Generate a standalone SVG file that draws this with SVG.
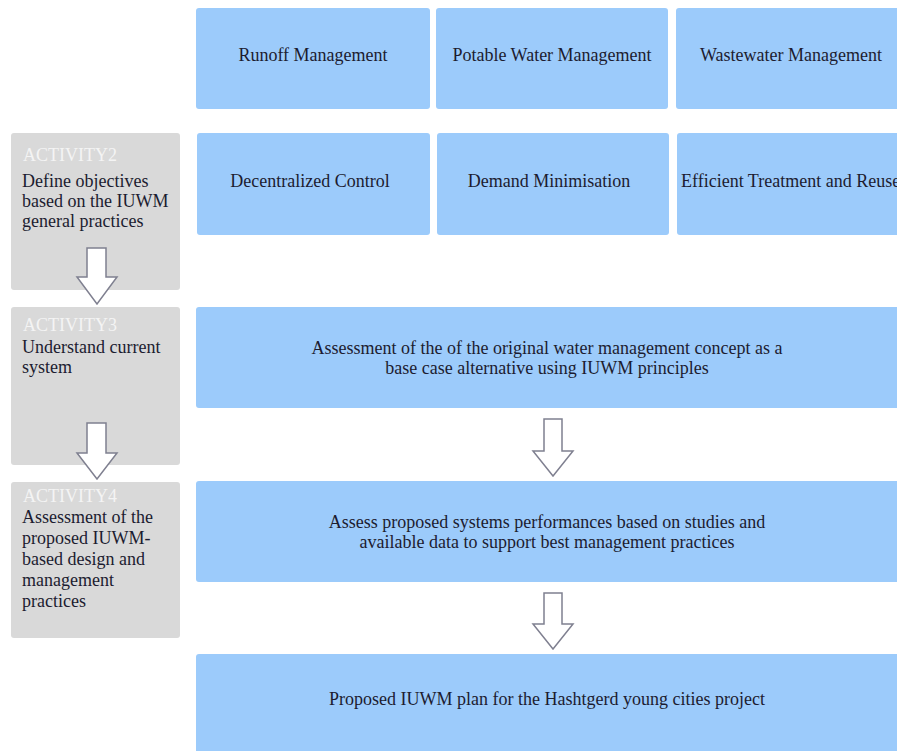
<svg xmlns="http://www.w3.org/2000/svg" width="897" height="751" viewBox="0 0 897 751">
<style>
.b{fill:#9ccbfb}
.g{fill:#d9d9d9}
text{font-family:'Liberation Serif','Tinos','DejaVu Serif',serif;font-size:18px}
.t{fill:#1c1c30}
.c{text-anchor:middle}
.w{fill:#f4f4f4}
.a{fill:#ffffff;stroke:#7f8090;stroke-width:1.5;stroke-linejoin:miter}
</style>
<rect width="897" height="751" fill="#ffffff"/>
<g id="runoff"><rect class="b" x="196" y="8" width="234" height="101" rx="3"/><text class="t c" x="313" y="61">Runoff Management</text></g>
<g id="potable"><rect class="b" x="436" y="8" width="232" height="101" rx="3"/><text class="t c" x="552" y="61">Potable Water Management</text></g>
<g id="wastewater"><rect class="b" x="676" y="8" width="230" height="101" rx="3"/><text class="t c" x="791" y="61">Wastewater Management</text></g>
<g id="decentral"><rect class="b" x="197" y="133" width="233" height="102" rx="3"/><text class="t c" x="310" y="187">Decentralized Control</text></g>
<g id="demand"><rect class="b" x="437" y="133" width="232" height="102" rx="3"/><text class="t c" x="549" y="187">Demand Minimisation</text></g>
<g id="efficient"><rect class="b" x="677" y="133" width="230" height="102" rx="3"/><text class="t" x="681" y="187">Efficient Treatment and Reuse</text></g>
<g id="activity2"><rect class="g" x="11" y="133" width="169" height="157" rx="3"/><text class="w" x="23" y="161">ACTIVITY2</text><text class="t" x="22" y="187">Define objectives</text><text class="t" x="22" y="207">based on the IUWM</text><text class="t" x="22" y="227">general practices</text></g>
<g id="activity3"><rect class="g" x="11" y="307" width="169" height="158" rx="3"/><text class="w" x="23" y="331">ACTIVITY3</text><text class="t" x="22" y="353">Understand current</text><text class="t" x="22" y="373">system</text></g>
<g id="activity4"><rect class="g" x="11" y="482" width="169" height="156" rx="3"/><text class="w" x="23" y="502">ACTIVITY4</text><text class="t" x="22" y="523">Assessment of the</text><text class="t" x="22" y="544">proposed IUWM-</text><text class="t" x="22" y="565">based design and</text><text class="t" x="22" y="586">management</text><text class="t" x="22" y="607">practices</text></g>
<g id="assess-original"><rect class="b" x="196" y="307" width="710" height="101" rx="3"/><text class="t c" x="547" y="354">Assessment of the of the original water management concept as a</text><text class="t c" x="547" y="374">base case alternative using IUWM principles</text></g>
<g id="assess-proposed"><rect class="b" x="196" y="481" width="710" height="101" rx="3"/><text class="t c" x="547" y="528">Assess proposed systems performances based on studies and</text><text class="t c" x="547" y="548">available data to support best management practices</text></g>
<g id="plan"><rect class="b" x="196" y="654" width="710" height="110" rx="3"/><text class="t c" x="547" y="705">Proposed IUWM plan for the Hashtgerd young cities project</text></g>
<g id="connectors">
<path class="a" d="M87,248 H106 V277 H117 L97,304 L77,277 H87 Z"/>
<path class="a" d="M87,423 H106 V453 H117 L97,479 L77,453 H87 Z"/>
<path class="a" d="M544,419 H562 V451 H573 L553,476 L533,451 H544 Z"/>
<path class="a" d="M544,593 H562 V624 H573 L553,649 L533,624 H544 Z"/>
</g>
</svg>
